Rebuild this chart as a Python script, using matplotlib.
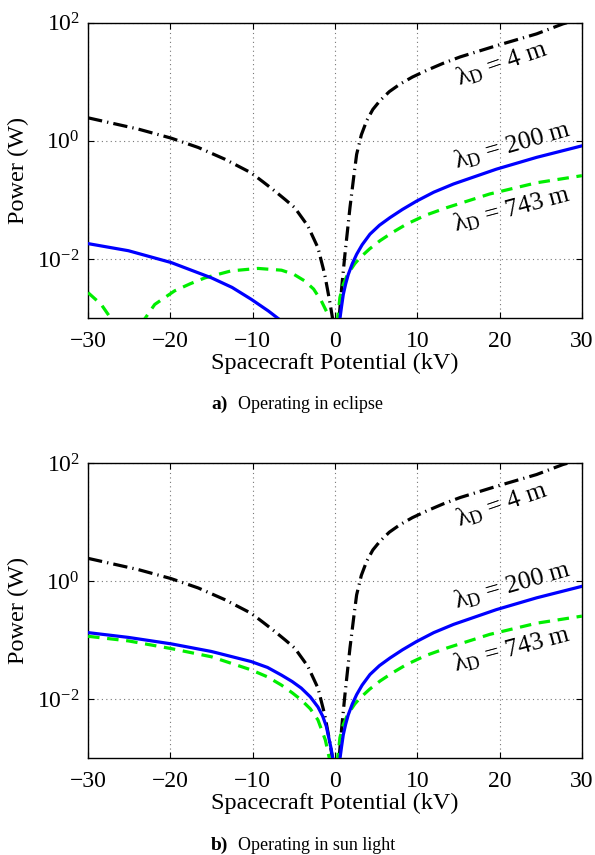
import numpy as np
import matplotlib
matplotlib.use("Agg")
import matplotlib.pyplot as plt

plt.rcParams['font.family'] = ['Liberation Serif', 'DejaVu Serif']
plt.rcParams['mathtext.fontset'] = 'custom'
plt.rcParams['mathtext.rm'] = 'Liberation Serif'
plt.rcParams['mathtext.it'] = 'Liberation Serif:italic'
plt.rcParams['mathtext.bf'] = 'Liberation Serif:bold'

# ---------------- data (Power in W vs spacecraft potential in kV) ----------------
# lambda_D = 4 m (same in both panels)
x_4m_neg = [-30, -23.9, -19.9, -16.6, -13.4, -10.2, -8.7, -7.3, -6.0, -4.9, -3.3, -2.07, -1.25, -0.65, -0.24]
p_4m_neg = [2.45, 1.58, 1.11, 0.77, 0.49, 0.288, 0.20, 0.141, 0.10, 0.0741, 0.0363, 0.0155, 0.0055, 0.00195, 0.00089]
x_4m_pos = [0.5, 0.81, 1.21, 1.82, 2.3, 2.63, 3.2, 3.85, 4.6, 5.47, 6.6, 7.9, 9.4, 11.1, 13.1, 15.2, 19.6, 24.5, 27.7, 30]
p_4m_pos = [0.001, 0.00324, 0.012, 0.0741, 0.26, 0.589, 1.26, 2.19, 3.4, 4.79, 6.8, 9.12, 12.0, 15.5, 20.4, 26.3, 40.7, 64.6, 95.5, 117]

# lambda_D = 200 m
x_200_pos = [0.55, 0.61, 0.8, 1.01, 1.3, 1.62, 2.1, 2.63, 3.3, 4.25, 5.4, 6.68, 8.2, 9.92, 12.0, 14.4, 19.6, 24.5, 30]
p_200_pos = [0.00063, 0.001, 0.00158, 0.00251, 0.0038, 0.0055, 0.0083, 0.012, 0.0174, 0.0263, 0.0372, 0.0501, 0.069, 0.0955, 0.135, 0.186, 0.331, 0.525, 0.822]
x_200_neg_ecl = [-30, -25.1, -19.9, -15.0, -12.5, -10.2, -8.1, -6.5, -6.2]
p_200_neg_ecl = [0.0182, 0.0138, 0.0087, 0.00479, 0.0033, 0.00209, 0.00132, 0.00089, 0.00079]
x_200_neg_sun = [-30, -25.1, -19.9, -15.0, -10.2, -8.2, -6.5, -5.2, -4.1, -3.0, -2.07, -1.5, -1.05, -0.52, -0.24]
p_200_neg_sun = [0.135, 0.112, 0.0871, 0.0646, 0.0437, 0.0347, 0.0257, 0.0200, 0.0155, 0.0110, 0.00741, 0.0052, 0.00347, 0.00158, 0.00095]

# lambda_D = 743 m
x_743_pos = [0.25, 0.4, 0.6, 1.0, 1.4, 1.82, 2.4, 3.04, 4.2, 5.47, 7.0, 8.7, 11.0, 13.6, 18.8, 24.5, 30]
p_743_pos = [0.00079, 0.00126, 0.00224, 0.00372, 0.0050, 0.0063, 0.0083, 0.0105, 0.0148, 0.0204, 0.0282, 0.0389, 0.055, 0.0741, 0.126, 0.195, 0.257]
x_743_neg_ecl = [-30, -28.4, -27.0, -26.7, np.nan, -23.6, -23.3, -21.9, -19.5, -17.6, -15.8,
                 -12.6, -9.35, -6.5, -5.0, -3.7, -2.6, -1.66, -0.85, -0.52]
p_743_neg_ecl = [0.00269, 0.0017, 0.00089, 0.00079, np.nan, 0.00079, 0.00089, 0.0017, 0.00288, 0.0038,
                 0.00479, 0.0063, 0.00692, 0.00646, 0.0055, 0.00427, 0.0031, 0.00195, 0.00115, 0.00089]
x_743_neg_sun = [-30, -25.1, -19.9, -15.0, -10.2, -8.2, -6.5, -5.2, -4.1, -3.0, -2.07, -1.17, -0.65]
p_743_neg_sun = [0.117, 0.0977, 0.0724, 0.0525, 0.0316, 0.0240, 0.0174, 0.0129, 0.00977, 0.0069, 0.00447, 0.00204, 0.00095]

xticks = [-30, -20, -10, 0, 10, 20, 30]
yticks = [1e-2, 1e0, 1e2]
labels = [r'λ$_\mathrm{D}$ = 4 m', r'λ$_\mathrm{D}$ = 200 m', r'λ$_\mathrm{D}$ = 743 m']
label_x = [20.2, 21.5, 21.5]
label_y = [20.0, 0.86, 0.071]
label_rot = [19, 16, 15]
captions = [('a)', 'Operating in eclipse'), ('b)', 'Operating in sun light')]

# ---------------- figure ----------------
fig = plt.figure(figsize=(5.95, 8.55), dpi=100)
ax_pos = [[0.148, 0.628, 0.830, 0.3455], [0.148, 0.1131, 0.830, 0.345]]

panels = [
    (x_200_neg_ecl, p_200_neg_ecl, x_743_neg_ecl, p_743_neg_ecl),
    (x_200_neg_sun, p_200_neg_sun, x_743_neg_sun, p_743_neg_sun),
]

blue = '#0000FF'
green = '#00EE00'
lw = 2.3
for i, (xb, pb, xg, pg) in enumerate(panels):
    ax = fig.add_axes(ax_pos[i])
    ax.set_yscale('log')
    ax.set_xlim(-30, 30)
    ax.set_ylim(1e-3, 1e2)
    # black dash-dot
    for xx, pp in [(x_4m_neg, p_4m_neg), (x_4m_pos, p_4m_pos)]:
        ax.plot(xx, pp, color='black', lw=lw, dashes=[4.5, 1.6, 0.4, 1.6], zorder=3)
    # blue solid
    ax.plot(xb, pb, color=blue, lw=lw, zorder=4)
    ax.plot(x_200_pos, p_200_pos, color=blue, lw=lw, zorder=4)
    # green dashed
    ax.plot(xg, pg, color=green, lw=lw, dashes=[3.6, 2.4], zorder=3)
    ax.plot(x_743_pos, p_743_pos, color=green, lw=lw, dashes=[3.6, 2.4], zorder=3)

    ax.set_xticks(xticks)
    ax.set_xticklabels([f'{t}'.replace('-', '\u2212') for t in xticks])
    ax.set_yticks(yticks)
    ax.yaxis.set_minor_locator(matplotlib.ticker.NullLocator())
    ax.grid(True, which='major', color='#777777', linestyle=(0, (1, 3)), lw=0.8)
    ax.tick_params(direction='in', length=4, width=0.8, top=True, right=True,
                   labelsize=17, colors='black')
    ax.tick_params(axis='x', pad=9)
    ax.tick_params(axis='y', pad=6)
    for s in ax.spines.values():
        s.set_linewidth(1.0)
    ax.set_xlabel('Spacecraft Potential (kV)', fontsize=17.5, labelpad=1)
    ax.set_ylabel('Power (W)', fontsize=17.5, labelpad=6)

    for lab, lx, ly, rot in zip(labels, label_x, label_y, label_rot):
        ax.text(lx, ly, lab, fontsize=18.5, rotation=rot, ha='center', va='center',
                rotation_mode='anchor', zorder=5)

    cap_y = [404 / 855, 845 / 855][i]
    fig.text(0.383, 1 - cap_y, captions[i][0], fontsize=14, fontweight='bold',
             ha='right', va='center')
    fig.text(0.400, 1 - cap_y, captions[i][1], fontsize=13, ha='left', va='center')

fig.savefig('out.png', dpi=100)
